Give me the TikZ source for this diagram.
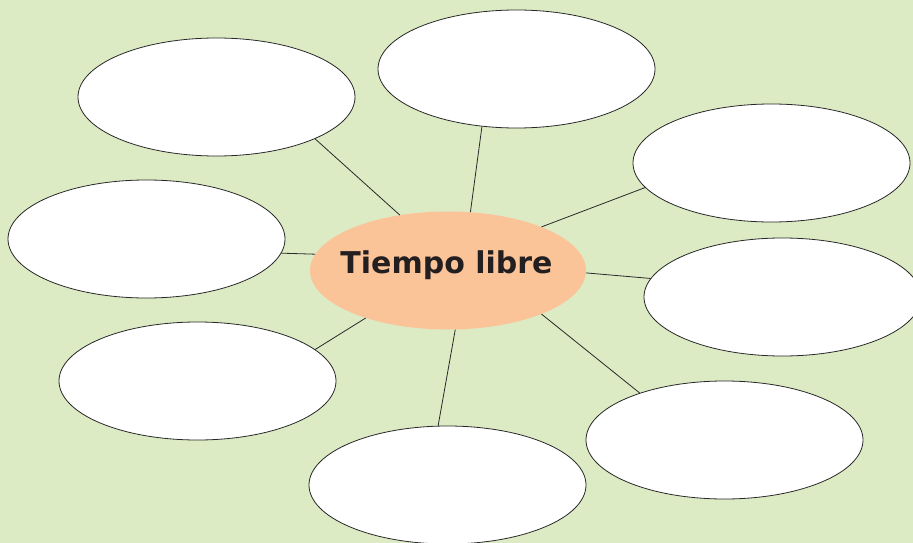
\documentclass[tikz,border=0pt]{standalone}
\usepackage{fontspec}
\newfontfamily\dvsans{DejaVu Sans}
\usetikzlibrary{shapes.geometric}
\definecolor{bggreen}{RGB}{221,235,197}
\definecolor{peach}{RGB}{250,195,152}
\definecolor{txtdark}{RGB}{35,31,32}
\definecolor{linegray}{RGB}{40,40,40}
\tikzset{
  leaf/.style={ellipse, draw=linegray, line width=0.8pt, fill=white, minimum width=277pt, minimum height=118pt, inner sep=0pt},
  hub/.style={ellipse, fill=peach, minimum width=276pt, minimum height=118pt, inner sep=0pt},
  link/.style={draw=linegray, line width=0.8pt},
}
\begin{document}
\begin{tikzpicture}[x=1pt,y=-1pt]
\fill[bggreen] (0,0) rectangle (913,543);
\useasboundingbox (0,0) rectangle (913,543);
\node[hub] (c) at (448,270.5) {};
\node[leaf] (a1) at (216.5,97) {};
\node[leaf] (a2) at (516.5,69) {};
\node[leaf] (a3) at (771.5,163) {};
\node[leaf] (a4) at (146.5,239) {};
\node[leaf] (a5) at (782.5,297) {};
\node[leaf] (a6) at (197.5,381) {};
\node[leaf] (a7) at (724.5,440) {};
\node[leaf] (a8) at (447.5,485) {};
\node[anchor=base, text=txtdark, inner sep=0pt, font=\dvsans\bfseries\fontsize{30}{36}\selectfont] (t) at (446.5,273) {Tiempo libre};
\draw[link] (a1.-23) -- (c.131);
\draw[link] (a2.-121.6) -- (c.69.2);
\draw[link] (a3.-169.9) -- (c.25.1);
\draw[link] (a4.-6.2) -- (c.173.7);
\draw[link] (a5.172) -- (c.-1.5);
\draw[link] (a6.15.1) -- (c.-150.3);
\draw[link] (a7.151.8) -- (c.-25.1);
\draw[link] (a8.99.1) -- (c.-83.3);
\end{tikzpicture}
\end{document}
